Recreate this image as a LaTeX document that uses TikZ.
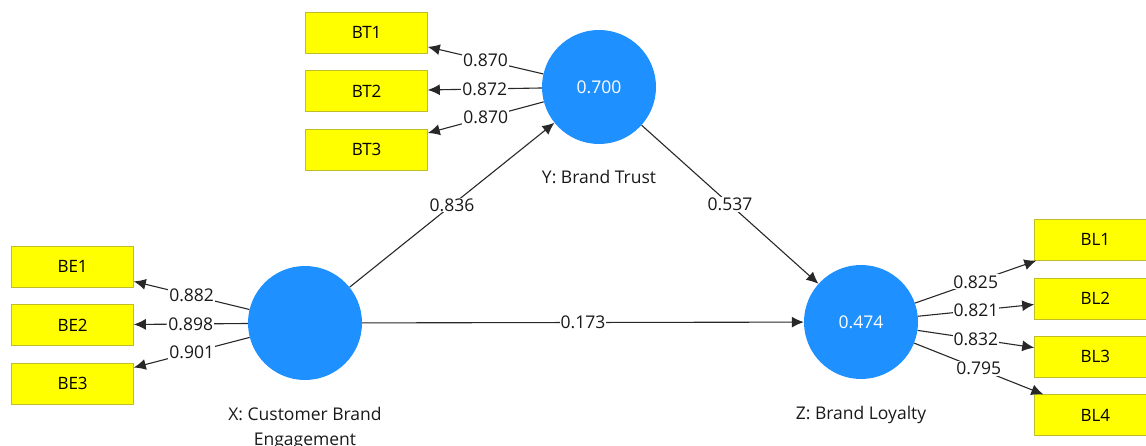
\documentclass[tikz,border=0pt]{standalone}
\usepackage{fontspec}
\setmainfont{Open Sans}
\usetikzlibrary{arrows.meta,positioning}
\definecolor{lvblue}{RGB}{30,144,255}
\definecolor{indyellow}{RGB}{255,255,0}
\definecolor{indedge}{RGB}{190,190,40}
\definecolor{pathgray}{RGB}{40,40,40}
\begin{document}
\begin{tikzpicture}[x=1pt,y=-1pt,>={Latex[length=12pt,width=11pt]},node distance=17pt and 114pt,
lv/.style={circle,fill=lvblue,minimum size=114pt,inner sep=0pt,text=white,font=\fontsize{17.5}{21}\selectfont},
ind/.style={draw=indedge,fill=indyellow,minimum width=122pt,minimum height=41pt,inner sep=0pt,font=\fontsize{17}{20}\selectfont},
coef/.style={fill=white,inner sep=1pt,font=\fontsize{17.5}{21}\selectfont,text=black!90},
lvname/.style={align=center,anchor=base,font=\fontsize{17.5}{25}\selectfont,text=black!90},
arrow/.style={->,draw=pathgray,line width=1.1pt}]
\useasboundingbox (0,0) rectangle (1146,446);
\clip (0,0) rectangle (1146,446);
\node[lv] (X) at (305,323) {};
\node[lv] (Y) at (599,87) {0.700};
\node[lv] (Z) at (861,322) {0.474};
\node[lvname] (Xlab) at ([yshift=-122pt]X.center) {X: Customer Brand\\Engagement};
\node[lvname] (Ylab) at ([yshift=-97pt]Y.center) {Y: Brand Trust};
\node[lvname] (Zlab) at ([yshift=-97pt]Z.center) {Z: Brand Loyalty};
\node[ind,left=of Y,yshift=-4pt] (BT2) {BT2};
\node[ind,above=of BT2] (BT1) {BT1};
\node[ind,below=of BT2] (BT3) {BT3};
\node[ind,left=of X,yshift=-2pt] (BE2) {BE2};
\node[ind,above=of BE2] (BE1) {BE1};
\node[ind,below=of BE2] (BE3) {BE3};
\node[ind,right=116pt of Z,anchor=south west,yshift=3pt] (BL2) {BL2};
\node[ind,above=of BL2] (BL1) {BL1};
\node[ind,below=of BL2] (BL3) {BL3};
\node[ind,below=of BL3] (BL4) {BL4};
\draw[arrow] (X) -- node[coef]{0.836} (Y); \draw[arrow] (Y) -- node[coef]{0.537} (Z); \draw[arrow] (X) -- node[coef]{0.173} (Z);
\draw[arrow] (Y) -- node[coef]{0.870} (BT1); \draw[arrow] (Y) -- node[coef]{0.872} (BT2); \draw[arrow] (Y) -- node[coef]{0.870} (BT3);
\draw[arrow] (X) -- node[coef]{0.882} (BE1); \draw[arrow] (X) -- node[coef]{0.898} (BE2); \draw[arrow] (X) -- node[coef]{0.901} (BE3);
\draw[arrow] (Z) -- node[coef]{0.825} (BL1); \draw[arrow] (Z) -- node[coef]{0.821} (BL2); \draw[arrow] (Z) -- node[coef]{0.832} (BL3); \draw[arrow] (Z) -- node[coef]{0.795} (BL4);
\end{tikzpicture}
\end{document}
